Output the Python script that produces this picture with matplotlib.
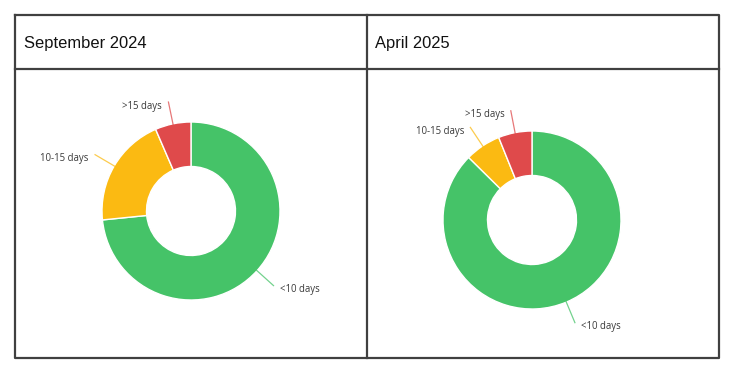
import numpy as np
import matplotlib.pyplot as plt

# data
titles = ["September 2024", "April 2025"]
categories = ["<10 days", "10-15 days", ">15 days"]
sep_2024 = [73.4, 20.1, 6.5]
apr_2025 = [87.4, 6.5, 6.1]
colors = ["#45C368", "#FBBA12", "#DF4A4B"]

W, H = 736, 367
fig = plt.figure(figsize=(W / 100, H / 100), dpi=100)

# background axes in pixel coords for the table frame
bg = fig.add_axes([0, 0, 1, 1])
bg.set_xlim(0, W)
bg.set_ylim(H, 0)
bg.axis("off")

line_kw = dict(color="#404040", lw=1.6, solid_capstyle="projecting")
x0, x1, xm = 15, 719, 367
y0, y1, yh = 15, 357.5, 69
bg.plot([x0, x1, x1, x0, x0], [y0, y0, y1, y1, y0], **line_kw)
bg.plot([x0, x1], [yh, yh], **line_kw)
bg.plot([xm, xm], [y0, y1], **line_kw)

for title, tx in zip(titles, [24, 375]):
    bg.text(tx, 43.5, title, fontsize=11.9, family="Liberation Sans",
            color="#111111", ha="left", va="center")


def draw_donut(cx, cy, r, values):
    ax = fig.add_axes([(cx - r) / W, (H - cy - r) / H, 2 * r / W, 2 * r / H])
    wedges, _ = ax.pie(values, colors=colors, startangle=90, counterclock=False,
                       radius=1.0,
                       wedgeprops=dict(width=0.5, edgecolor="white", linewidth=1.0))
    ax.set_xlim(-1, 1)
    ax.set_ylim(-1, 1)
    ax.axis("off")

    lr = 1.25
    for w, lab, col in zip(wedges, categories, colors):
        mid = np.deg2rad((w.theta1 + w.theta2) / 2)
        c, s = np.cos(mid), np.sin(mid)
        ax.plot([c * 0.99, c * lr], [s * 0.99, s * lr], color=col, lw=0.9,
                alpha=0.75, clip_on=False)
        side = 1 if c >= 0 else -1
        ax.text(c * lr + side * 0.07, s * lr - 0.045, lab, fontsize=6.9,
                family="Open Sans", color="#3a3a3a",
                ha="left" if side > 0 else "right", va="center")
    return ax


draw_donut(191, 211, 89, sep_2024)
draw_donut(532, 220, 89, apr_2025)

fig.savefig("out.png", dpi=100)
